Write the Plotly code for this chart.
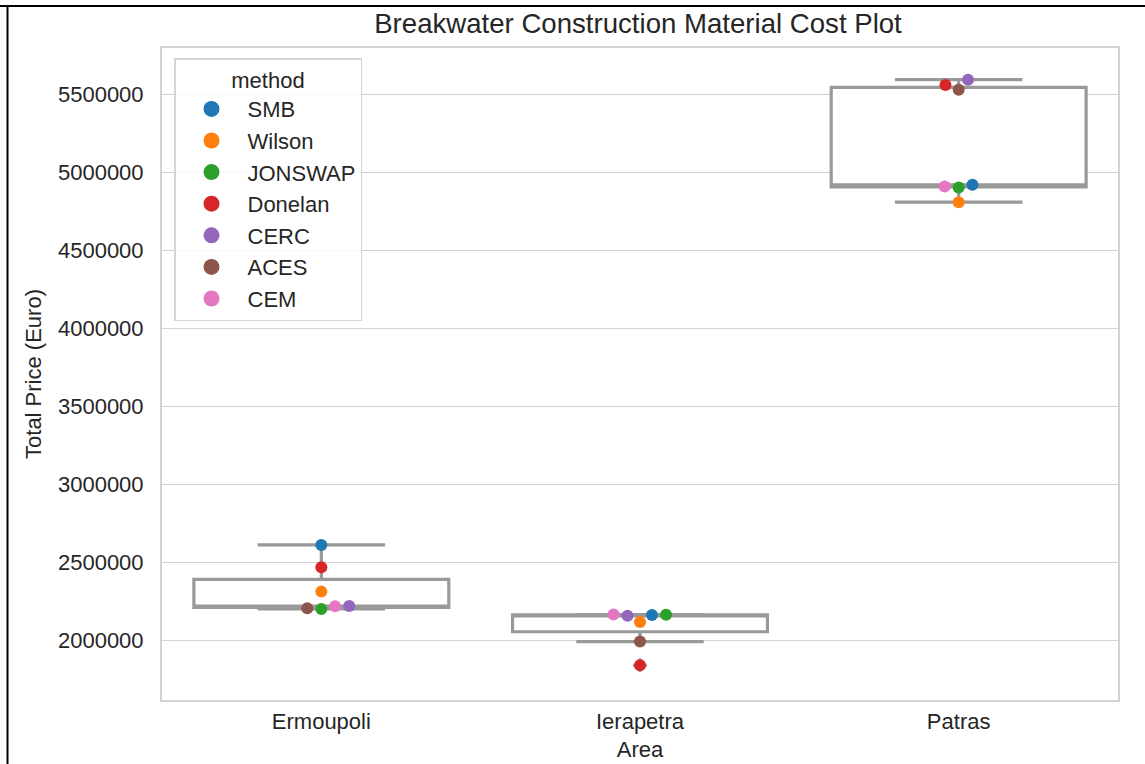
import numpy as np
import plotly.graph_objects as go

# ---- data -------------------------------------------------------------
areas = ["Ermoupoli", "Ierapetra", "Patras"]
methods = ["SMB", "Wilson", "JONSWAP", "Donelan", "CERC", "ACES", "CEM"]
method_colors = ["#1f77b4", "#ff7f0e", "#2ca02c", "#d62728",
                 "#9467bd", "#8c564b", "#e377c2"]

# total material price (Euro) per wave-prediction method, in `methods` order
ermoupoli = [2613000, 2314000, 2203000, 2470000, 2222000, 2207000, 2220000]
ierapetra = [2165000, 2120000, 2166000, 1842000, 2160000, 1994000, 2167000]
patras = [4919000, 4808000, 4902000, 5558000, 5592000, 5528000, 4908000]
prices = [ermoupoli, ierapetra, patras]

# ---- layout geometry ----------------------------------------------------
W, H = 1145, 764
M_L, M_R, M_T, M_B = 162, 27, 48, 64
Y_RANGE = [1620000, 5795000]
X_RANGE = [-0.5, 2.5]
plot_w = W - M_L - M_R
plot_h = H - M_T - M_B
px_per_cat = plot_w / (X_RANGE[1] - X_RANGE[0])
px_per_val = plot_h / (Y_RANGE[1] - Y_RANGE[0])

FONT = "Liberation Sans, Arial, sans-serif"
TEXT = "#262626"
EDGE = "#999999"
GRID = "#d2d2d2"


def swarm_offsets(values, diameter=13.4):
    """Beeswarm layout: place points from low to high, each at the most
    central horizontal offset (in px) that does not overlap placed points.
    Returns offsets in category units."""
    y = np.asarray(values, float) * px_per_val
    order = np.argsort(y, kind="stable")
    placed = []
    out = np.zeros(len(y))
    for idx in order:
        yi = y[idx]
        nbrs = [p for p in placed if yi - p[1] < diameter]
        cands = [0.0]
        left_first = True
        for xj, yj in nbrs:
            dx = np.sqrt(max(diameter ** 2 - (yi - yj) ** 2, 0.0)) * 1.05
            pair = [xj - dx, xj + dx] if left_first else [xj + dx, xj - dx]
            cands.extend(pair)
            left_first = not left_first
        cands = np.array(cands)
        cands = cands[np.argsort(np.abs(cands), kind="stable")]
        chosen = cands[-1]
        for c in cands:
            if all((c - xj) ** 2 + (yi - yj) ** 2 >= diameter ** 2 for xj, yj in nbrs):
                chosen = c
                break
        placed.append((chosen, yi))
        out[idx] = chosen
    return out / px_per_cat


fig = go.Figure()

# boxes, one per area
for i, (area, vals) in enumerate(zip(areas, prices)):
    fig.add_trace(go.Box(
        x=[i] * len(vals), y=vals, name=area,
        width=0.8, whiskerwidth=0.5,
        quartilemethod="inclusive",
        boxpoints="outliers", jitter=0, pointpos=0,
        fillcolor="white",
        line=dict(color=EDGE, width=3.2),
        marker=dict(symbol="diamond", size=11.5, color=EDGE),
        showlegend=False, hoverinfo="y",
    ))

# swarm points, one trace per method
offsets = [swarm_offsets(vals) for vals in prices]
for m, (method, color) in enumerate(zip(methods, method_colors)):
    xs = [i + offsets[i][m] for i in range(len(areas))]
    ys = [prices[i][m] for i in range(len(areas))]
    fig.add_trace(go.Scatter(
        x=xs, y=ys, mode="markers", name=method,
        marker=dict(color=color, size=12),
        legendgroup=method, showlegend=False,
    ))
    # legend swatch
    fig.add_trace(go.Scatter(
        x=[None], y=[None], mode="markers", name=method,
        marker=dict(color=color, size=20),
        legendgroup=method, showlegend=True,
    ))


# outer frame lines (top and left)
def px_x(px):
    return (px - M_L) / plot_w


def px_y(py):
    return (H - M_B - py) / plot_h


fig.add_shape(type="line", xref="paper", yref="paper",
              x0=px_x(0), x1=px_x(W), y0=px_y(6), y1=px_y(6),
              line=dict(color="black", width=2))
fig.add_shape(type="line", xref="paper", yref="paper",
              x0=px_x(7.5), x1=px_x(7.5), y0=px_y(6), y1=px_y(H),
              line=dict(color="black", width=2))

fig.update_layout(
    width=W, height=H,
    margin=dict(l=M_L, r=M_R, t=M_T, b=M_B, autoexpand=False),
    paper_bgcolor="white", plot_bgcolor="white",
    font=dict(family=FONT, size=22, color=TEXT),
    title=dict(text="Breakwater Construction Material Cost Plot",
               font=dict(size=27.6, color=TEXT),
               x=638 / W, xanchor="center", xref="container",
               y=1 - 23 / H, yanchor="middle", yref="container"),
    xaxis=dict(range=X_RANGE, tickvals=[0, 1, 2], ticktext=areas,
               showgrid=False, zeroline=False,
               showline=True, mirror=True, linecolor=GRID, linewidth=2,
               ticks="", ticklabelstandoff=1,
               tickfont=dict(size=22, color=TEXT),
               title=dict(text="Area", standoff=8,
                          font=dict(size=22, color=TEXT))),
    yaxis=dict(range=Y_RANGE, dtick=500000, tick0=0, tickformat="d",
               showgrid=True, gridcolor=GRID, gridwidth=1.3,
               zeroline=False,
               showline=True, mirror=True, linecolor=GRID, linewidth=2,
               ticks="", ticklabelstandoff=12,
               tickfont=dict(size=22, color=TEXT),
               title=dict(text="Total Price (Euro)", standoff=10,
                          font=dict(size=22, color=TEXT))),
    legend=dict(x=px_x(174), y=px_y(58), xanchor="left", yanchor="top",
                bgcolor="rgba(255,255,255,0.85)",
                bordercolor="#d5d5d5", borderwidth=1.5,
                font=dict(size=22, color=TEXT),
                title=dict(text="method", side="top center",
                           font=dict(size=22, color=TEXT)),
                itemwidth=62, tracegroupgap=0),
)

fig.write_html("out.html")
